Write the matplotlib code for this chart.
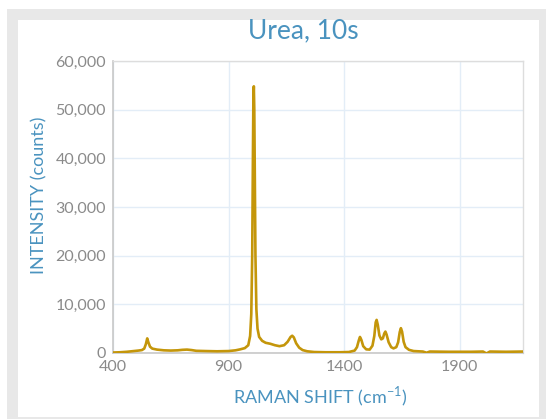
import matplotlib.pyplot as plt
from matplotlib.patches import Rectangle
from matplotlib.ticker import FuncFormatter

plt.rcParams['font.family'] = ['Lato', 'DejaVu Sans']

# spectrum (Raman shift in cm-1, intensity in counts)
shift = [400, 430, 460, 490, 510, 525, 535, 542, 548, 553, 560, 570, 590, 620,
         650, 680, 700, 720, 740, 760, 800, 850, 900, 930, 950, 970, 985, 993,
         998, 1002, 1005, 1007, 1009, 1011, 1013, 1016, 1020, 1025, 1032, 1045,
         1060, 1080, 1100, 1120, 1140, 1155, 1168, 1175, 1182, 1192, 1205, 1220,
         1240, 1270, 1320, 1380, 1420, 1445, 1455, 1463, 1468, 1474, 1482, 1495,
         1510, 1522, 1530, 1536, 1540, 1545, 1552, 1560, 1567, 1573, 1578, 1583,
         1592, 1603, 1613, 1625, 1633, 1640, 1645, 1650, 1657, 1665, 1680, 1700,
         1740, 1756, 1770, 1850, 1950, 2000, 2015, 2030, 2100, 2173]
intensity = [100, 150, 250, 400, 500, 600, 900, 1800, 3000, 2200, 1300, 900, 700, 550,
             500, 550, 650, 700, 600, 450, 400, 350, 400, 550, 750, 1000, 1600, 3500,
             8000, 20000, 40000, 52000, 54800, 50000, 38000, 20000, 9000, 5000, 3300, 2500,
             2100, 1900, 1600, 1400, 1600, 2300, 3300, 3550, 3200, 2000, 1100, 600,
             350, 200, 150, 150, 200, 500, 1200, 2600, 3300, 2700, 1400, 750,
             700, 1500, 3500, 6300, 6800, 5800, 3600, 2800, 3000, 4000, 4400, 3800,
             2200, 1200, 950, 1200, 2200, 4300, 5100, 4400, 2300, 1200, 650, 400,
             300, 50, 300, 250, 250, 300, -100, 300, 250, 300]

xticks = [400, 900, 1400, 1900]
yticks = [0, 10000, 20000, 30000, 40000, 50000, 60000]

W, H = 546, 419
fig = plt.figure(figsize=(W / 100, H / 100), dpi=100)
fig.patch.set_facecolor('white')

# gray frame around the card
fig.patches.append(Rectangle((7 / W, 0), 1 - 7 / W, 1 - 9 / H, transform=fig.transFigure,
                             facecolor='#e8e8e8', edgecolor='none', zorder=-2))
fig.patches.append(Rectangle((18 / W, 2 / H), (539 - 18) / W, (417 - 20) / H,
                             transform=fig.transFigure, facecolor='white',
                             edgecolor='none', zorder=-1))

left, right, top, bottom = 113, 523, 61, 353
ax = fig.add_axes([left / W, 1 - bottom / H, (right - left) / W, (bottom - top) / H])
ax.set_facecolor('none')

ax.plot(shift, intensity, color='#C4960A', lw=1.9, zorder=3)

ax.set_xlim(400, 2173)
ax.set_ylim(0, 60000)
ax.set_xticks(xticks)
ax.set_yticks(yticks)
ax.yaxis.set_major_formatter(FuncFormatter(lambda v, p: f'{int(v):,}'))
ax.grid(True, color='#e3edf7', lw=1.0, zorder=0)
ax.tick_params(length=0, labelsize=11.5, labelcolor='#8a8a8a', pad=5)

for s in ['left', 'bottom']:
    ax.spines[s].set_color('#c8c8c8')
    ax.spines[s].set_linewidth(1.2)
for s in ['top', 'right']:
    ax.spines[s].set_color('#dddddd')
    ax.spines[s].set_linewidth(1.0)

blue = '#4a93bf'
fig.text(303 / W, 1 - 31 / H, 'Urea, 10s', color=blue, fontsize=19,
         ha='center', va='center')
fig.text(39.5 / W, 1 - 195 / H, 'INTENSITY (counts)', color=blue, fontsize=13,
         rotation=90, ha='center', va='center')
fig.text(320 / W, 1 - 397 / H, r'RAMAN SHIFT (cm$^{\mathregular{-1}}$)', color=blue,
         fontsize=13, ha='center', va='center')

fig.savefig('out.png', dpi=100)
